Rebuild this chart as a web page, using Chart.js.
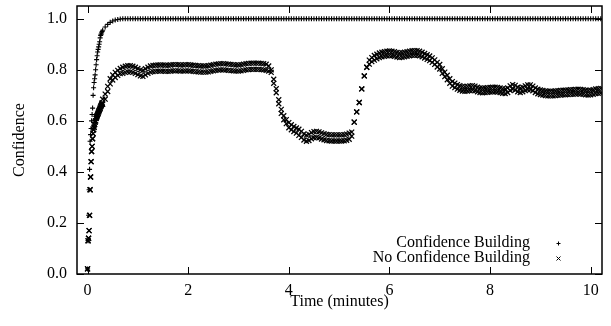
<!DOCTYPE html>
<html lang="en">
<head>
<meta charset="utf-8">
<title>Confidence over time</title>
<script src="https://cdn.jsdelivr.net/npm/chart.js@4"></script>
<style>
  html, body { margin: 0; padding: 0; background: #fff; }
  #confChart { display: block; }
</style>
</head>
<body>
<canvas id="confChart" width="611" height="326"></canvas>
<script>
// sample times in minutes (denser at the start, where things move fast)
const minutes = [
  0, 0.01, 0.02, 0.03, 0.04, 0.05, 0.06, 0.07, 0.08, 0.09,
  0.1, 0.11, 0.12, 0.13, 0.14, 0.15, 0.16, 0.17, 0.18, 0.19,
  0.2, 0.21, 0.22, 0.23, 0.24, 0.25, 0.26, 0.27, 0.28, 0.29,
  0.3, 0.35, 0.4, 0.45, 0.5, 0.55, 0.6, 0.65,
  0.7, 0.75, 0.8, 0.85, 0.9, 0.95, 1, 1.05, 1.1, 1.15,
  1.2, 1.25, 1.3, 1.35, 1.4, 1.45, 1.5, 1.55, 1.6, 1.65,
  1.7, 1.75, 1.8, 1.85, 1.9, 1.95, 2, 2.05, 2.1, 2.15,
  2.2, 2.25, 2.3, 2.35, 2.4, 2.45, 2.5, 2.55, 2.6, 2.65,
  2.7, 2.75, 2.8, 2.85, 2.9, 2.95, 3, 3.05, 3.1, 3.15,
  3.2, 3.25, 3.3, 3.35, 3.4, 3.45, 3.5, 3.55, 3.6, 3.65,
  3.7, 3.75, 3.8, 3.85, 3.9, 3.95, 4, 4.05, 4.1, 4.15,
  4.2, 4.25, 4.3, 4.35, 4.4, 4.45, 4.5, 4.55, 4.6, 4.65,
  4.7, 4.75, 4.8, 4.85, 4.9, 4.95, 5, 5.05, 5.1, 5.15,
  5.2, 5.25, 5.3, 5.35, 5.4, 5.45, 5.5, 5.55, 5.6, 5.65,
  5.7, 5.75, 5.8, 5.85, 5.9, 5.95, 6, 6.05, 6.1, 6.15,
  6.2, 6.25, 6.3, 6.35, 6.4, 6.45, 6.5, 6.55, 6.6, 6.65,
  6.7, 6.75, 6.8, 6.85, 6.9, 6.95, 7, 7.05, 7.1, 7.15,
  7.2, 7.25, 7.3, 7.35, 7.4, 7.45, 7.5, 7.55, 7.6, 7.65,
  7.7, 7.75, 7.8, 7.85, 7.9, 7.95, 8, 8.05, 8.1, 8.15,
  8.2, 8.25, 8.3, 8.35, 8.4, 8.45, 8.5, 8.55, 8.6, 8.65,
  8.7, 8.75, 8.8, 8.85, 8.9, 8.95, 9, 9.05, 9.1, 9.15,
  9.2, 9.25, 9.3, 9.35, 9.4, 9.45, 9.5, 9.55, 9.6, 9.65,
  9.7, 9.75, 9.8, 9.85, 9.9, 9.95, 10, 10.05, 10.1, 10.15,
  10.2
];

// with confidence building
const confBuilding = [
  0.02, 0.13, 0.23, 0.33, 0.41, 0.52, 0.546, 0.57, 0.6, 0.625,
  0.65, 0.7, 0.73, 0.75, 0.765, 0.78, 0.8, 0.82, 0.84, 0.855,
  0.87, 0.88, 0.89, 0.9, 0.91, 0.925, 0.935, 0.94, 0.945, 0.95,
  0.955, 0.968, 0.978, 0.986, 0.991, 0.995, 0.997, 0.999,
  1, 1, 1, 1, 1, 1, 1, 1, 1, 1,
  1, 1, 1, 1, 1, 1, 1, 1, 1, 1,
  1, 1, 1, 1, 1, 1, 1, 1, 1, 1,
  1, 1, 1, 1, 1, 1, 1, 1, 1, 1,
  1, 1, 1, 1, 1, 1, 1, 1, 1, 1,
  1, 1, 1, 1, 1, 1, 1, 1, 1, 1,
  1, 1, 1, 1, 1, 1, 1, 1, 1, 1,
  1, 1, 1, 1, 1, 1, 1, 1, 1, 1,
  1, 1, 1, 1, 1, 1, 1, 1, 1, 1,
  1, 1, 1, 1, 1, 1, 1, 1, 1, 1,
  1, 1, 1, 1, 1, 1, 1, 1, 1, 1,
  1, 1, 1, 1, 1, 1, 1, 1, 1, 1,
  1, 1, 1, 1, 1, 1, 1, 1, 1, 1,
  1, 1, 1, 1, 1, 1, 1, 1, 1, 1,
  1, 1, 1, 1, 1, 1, 1, 1, 1, 1,
  1, 1, 1, 1, 1, 1, 1, 1, 1, 1,
  1, 1, 1, 1, 1, 1, 1, 1, 1, 1,
  1, 1, 1, 1, 1, 1, 1, 1, 1, 1,
  1, 1, 1, 1, 1, 1, 1, 1, 1, 1,
  1
];

// without confidence building: the readings scatter in two rows,
// upper and lower edge of the band
const noConfHigh = [
  0.02, 0.13, 0.14, 0.17, 0.23, 0.33, 0.38, 0.44, 0.48, 0.5,
  0.53, 0.55, 0.565, 0.575, 0.585, 0.595, 0.6, 0.61, 0.615, 0.62,
  0.625, 0.63, 0.635, 0.64, 0.645, 0.65, 0.655, 0.66, 0.665, 0.67,
  0.685, 0.705, 0.735, 0.765, 0.78, 0.79, 0.798, 0.805,
  0.81, 0.814, 0.816, 0.816, 0.814, 0.81, 0.805, 0.8, 0.798, 0.804,
  0.81, 0.815, 0.817, 0.818, 0.819, 0.819, 0.819, 0.818, 0.818, 0.819,
  0.82, 0.82, 0.82, 0.819, 0.819, 0.82, 0.82, 0.819, 0.818, 0.817,
  0.816, 0.815, 0.815, 0.815, 0.816, 0.818, 0.82, 0.822, 0.823, 0.824,
  0.824, 0.823, 0.822, 0.821, 0.82, 0.819, 0.819, 0.82, 0.822, 0.824,
  0.825, 0.826, 0.826, 0.826, 0.826, 0.825, 0.824, 0.822, 0.815, 0.8,
  0.763, 0.726, 0.683, 0.645, 0.62, 0.605, 0.593, 0.585, 0.578, 0.572,
  0.567, 0.559, 0.549, 0.544, 0.547, 0.554, 0.558, 0.559, 0.557, 0.553,
  0.55, 0.547, 0.546, 0.545, 0.545, 0.545, 0.545, 0.545, 0.546, 0.548,
  0.552, 0.556, 0.595, 0.635, 0.672, 0.725, 0.776, 0.81, 0.838, 0.848,
  0.856, 0.861, 0.866, 0.869, 0.871, 0.873, 0.874, 0.873, 0.871, 0.868,
  0.866, 0.867, 0.869, 0.871, 0.873, 0.875, 0.875, 0.875, 0.873, 0.869,
  0.864, 0.859, 0.854, 0.847, 0.839, 0.829, 0.821, 0.804, 0.791, 0.779,
  0.765, 0.754, 0.748, 0.742, 0.738, 0.735, 0.734, 0.735, 0.737, 0.738,
  0.736, 0.732, 0.729, 0.728, 0.729, 0.73, 0.731, 0.732, 0.732, 0.731,
  0.729, 0.726, 0.725, 0.729, 0.737, 0.742, 0.739, 0.732, 0.729, 0.732,
  0.737, 0.741, 0.741, 0.736, 0.729, 0.724, 0.721, 0.719, 0.717, 0.716,
  0.716, 0.716, 0.717, 0.718, 0.719, 0.72, 0.72, 0.721, 0.722, 0.722,
  0.723, 0.724, 0.723, 0.722, 0.72, 0.719, 0.72, 0.722, 0.725, 0.726,
  0.727
];

const noConfLow = [
  0.02, 0.13, 0.14, 0.17, 0.23, 0.33, 0.38, 0.44, 0.48, 0.5,
  0.53, 0.55, 0.565, 0.575, 0.585, 0.595, 0.6, 0.61, 0.615, 0.62,
  0.625, 0.63, 0.635, 0.64, 0.645, 0.65, 0.655, 0.66, 0.665, 0.67,
  0.665, 0.685, 0.715, 0.745, 0.76, 0.77, 0.778, 0.785,
  0.786, 0.79, 0.792, 0.792, 0.79, 0.786, 0.781, 0.776, 0.774, 0.78,
  0.786, 0.791, 0.793, 0.794, 0.795, 0.795, 0.795, 0.794, 0.794, 0.795,
  0.796, 0.796, 0.796, 0.795, 0.795, 0.796, 0.796, 0.795, 0.794, 0.793,
  0.792, 0.791, 0.791, 0.791, 0.792, 0.794, 0.796, 0.798, 0.799, 0.8,
  0.8, 0.799, 0.798, 0.797, 0.796, 0.795, 0.795, 0.796, 0.798, 0.8,
  0.801, 0.802, 0.802, 0.802, 0.802, 0.801, 0.8, 0.798, 0.795, 0.79,
  0.747, 0.71, 0.667, 0.629, 0.604, 0.589, 0.573, 0.565, 0.558, 0.552,
  0.543, 0.535, 0.525, 0.52, 0.523, 0.53, 0.534, 0.535, 0.533, 0.529,
  0.526, 0.523, 0.522, 0.521, 0.521, 0.521, 0.521, 0.521, 0.522, 0.524,
  0.528, 0.54, 0.595, 0.635, 0.672, 0.725, 0.776, 0.81, 0.822, 0.832,
  0.838, 0.843, 0.848, 0.851, 0.853, 0.855, 0.856, 0.855, 0.853, 0.85,
  0.848, 0.849, 0.851, 0.853, 0.855, 0.857, 0.857, 0.857, 0.855, 0.851,
  0.846, 0.841, 0.836, 0.829, 0.821, 0.811, 0.803, 0.786, 0.773, 0.761,
  0.747, 0.736, 0.73, 0.724, 0.72, 0.717, 0.716, 0.717, 0.719, 0.72,
  0.718, 0.714, 0.711, 0.71, 0.711, 0.712, 0.713, 0.714, 0.714, 0.713,
  0.711, 0.708, 0.707, 0.711, 0.719, 0.724, 0.721, 0.714, 0.711, 0.714,
  0.719, 0.723, 0.723, 0.718, 0.711, 0.706, 0.703, 0.701, 0.699, 0.698,
  0.698, 0.698, 0.699, 0.7, 0.701, 0.702, 0.702, 0.703, 0.704, 0.704,
  0.705, 0.706, 0.705, 0.704, 0.702, 0.701, 0.702, 0.704, 0.707, 0.708,
  0.709
];

const xTicks = [0, 2, 4, 6, 8, 10];
const yTicks = [0, 0.2, 0.4, 0.6, 0.8, 1.0];
const seriesNames = ['Confidence Building', 'No Confidence Building'];

const toPoints = vals => vals.map((v, i) => ({ x: minutes[i], y: v }));

Chart.defaults.font.family = '"Liberation Serif", "Times New Roman", serif';
Chart.defaults.font.size = 16;
Chart.defaults.color = '#000';

// small marker glyphs for the key
function drawMark(ctx, style, cx, cy, r) {
  ctx.beginPath();
  if (style === 'cross') {
    ctx.moveTo(cx - r, cy); ctx.lineTo(cx + r, cy);
    ctx.moveTo(cx, cy - r); ctx.lineTo(cx, cy + r);
  } else {
    ctx.moveTo(cx - r, cy - r); ctx.lineTo(cx + r, cy + r);
    ctx.moveTo(cx - r, cy + r); ctx.lineTo(cx + r, cy - r);
  }
  ctx.stroke();
}

// box border, inward ticks on all four sides, key in the lower right
const framePlugin = {
  id: 'frame',
  afterDatasetsDraw(chart) {
    const { ctx, chartArea: a, scales: { x, y } } = chart;
    ctx.save();
    ctx.strokeStyle = '#000';
    ctx.lineWidth = 1;
    ctx.beginPath();
    xTicks.forEach(v => {
      const px = Math.round(x.getPixelForValue(v)) + 0.5;
      ctx.moveTo(px, a.bottom); ctx.lineTo(px, a.bottom - 7);
      ctx.moveTo(px, a.top); ctx.lineTo(px, a.top + 7);
    });
    yTicks.forEach(v => {
      const py = Math.round(y.getPixelForValue(v)) + 0.5;
      ctx.moveTo(a.left, py); ctx.lineTo(a.left + 7, py);
      ctx.moveTo(a.right, py); ctx.lineTo(a.right - 7, py);
    });
    ctx.stroke();
    ctx.lineWidth = 1.5;
    ctx.strokeRect(a.left, a.top, a.right - a.left, a.bottom - a.top);

    ctx.font = '16px "Liberation Serif"';
    ctx.fillStyle = '#000';
    ctx.textAlign = 'right';
    ctx.textBaseline = 'middle';
    ctx.lineWidth = 1;
    chart.data.datasets.forEach((ds, i) => {
      const ky = a.bottom - 31 + i * 15;
      ctx.fillText(ds.label, a.right - 72, ky);
      drawMark(ctx, ds.pointStyle, a.right - 43.5, ky + 0.5, 2);
    });
    ctx.restore();
  }
};

new Chart(document.getElementById('confChart'), {
  type: 'scatter',
  data: {
    datasets: [
      {
        label: seriesNames[0],
        data: toPoints(confBuilding),
        pointStyle: 'cross',
        pointRadius: 2.5,
        pointBorderWidth: 1.1,
        pointBorderColor: '#000',
        pointBackgroundColor: '#000'
      },
      {
        label: seriesNames[1],
        data: toPoints(noConfHigh).concat(toPoints(noConfLow)),
        pointStyle: 'crossRot',
        pointRadius: 3.5,
        pointBorderWidth: 1.25,
        pointBorderColor: '#000',
        pointBackgroundColor: '#000'
      }
    ]
  },
  options: {
    responsive: false,
    animation: false,
    events: [],
    layout: { padding: { top: 6, right: 9, left: 0, bottom: 0 } },
    plugins: { legend: { display: false }, tooltip: { enabled: false } },
    scales: {
      x: {
        type: 'linear',
        min: -0.21,
        max: 10.225,
        grid: { display: false, drawTicks: false, tickLength: 0 },
        border: { display: false },
        afterBuildTicks: s => { s.ticks = xTicks.map(v => ({ value: v })); },
        afterFit: s => { s.height = 52; s.paddingLeft = 0; s.paddingRight = 0; },
        ticks: { padding: 7, maxRotation: 0, callback: v => String(v) },
        title: {
          display: true,
          text: 'Time (minutes)',
          padding: { top: 0, bottom: 15 }
        }
      },
      y: {
        min: 0,
        max: 1.05,
        grid: { display: false, drawTicks: false, tickLength: 0 },
        border: { display: false },
        afterBuildTicks: s => { s.ticks = yTicks.map(v => ({ value: v })); },
        afterFit: s => { s.width = 77; s.paddingTop = 0; s.paddingBottom = 0; },
        ticks: { padding: 10, callback: v => v.toFixed(1) },
        title: {
          display: true,
          text: 'Confidence',
          padding: { top: 10, bottom: 0 }
        }
      }
    }
  },
  plugins: [framePlugin]
});
</script>
</body>
</html>
